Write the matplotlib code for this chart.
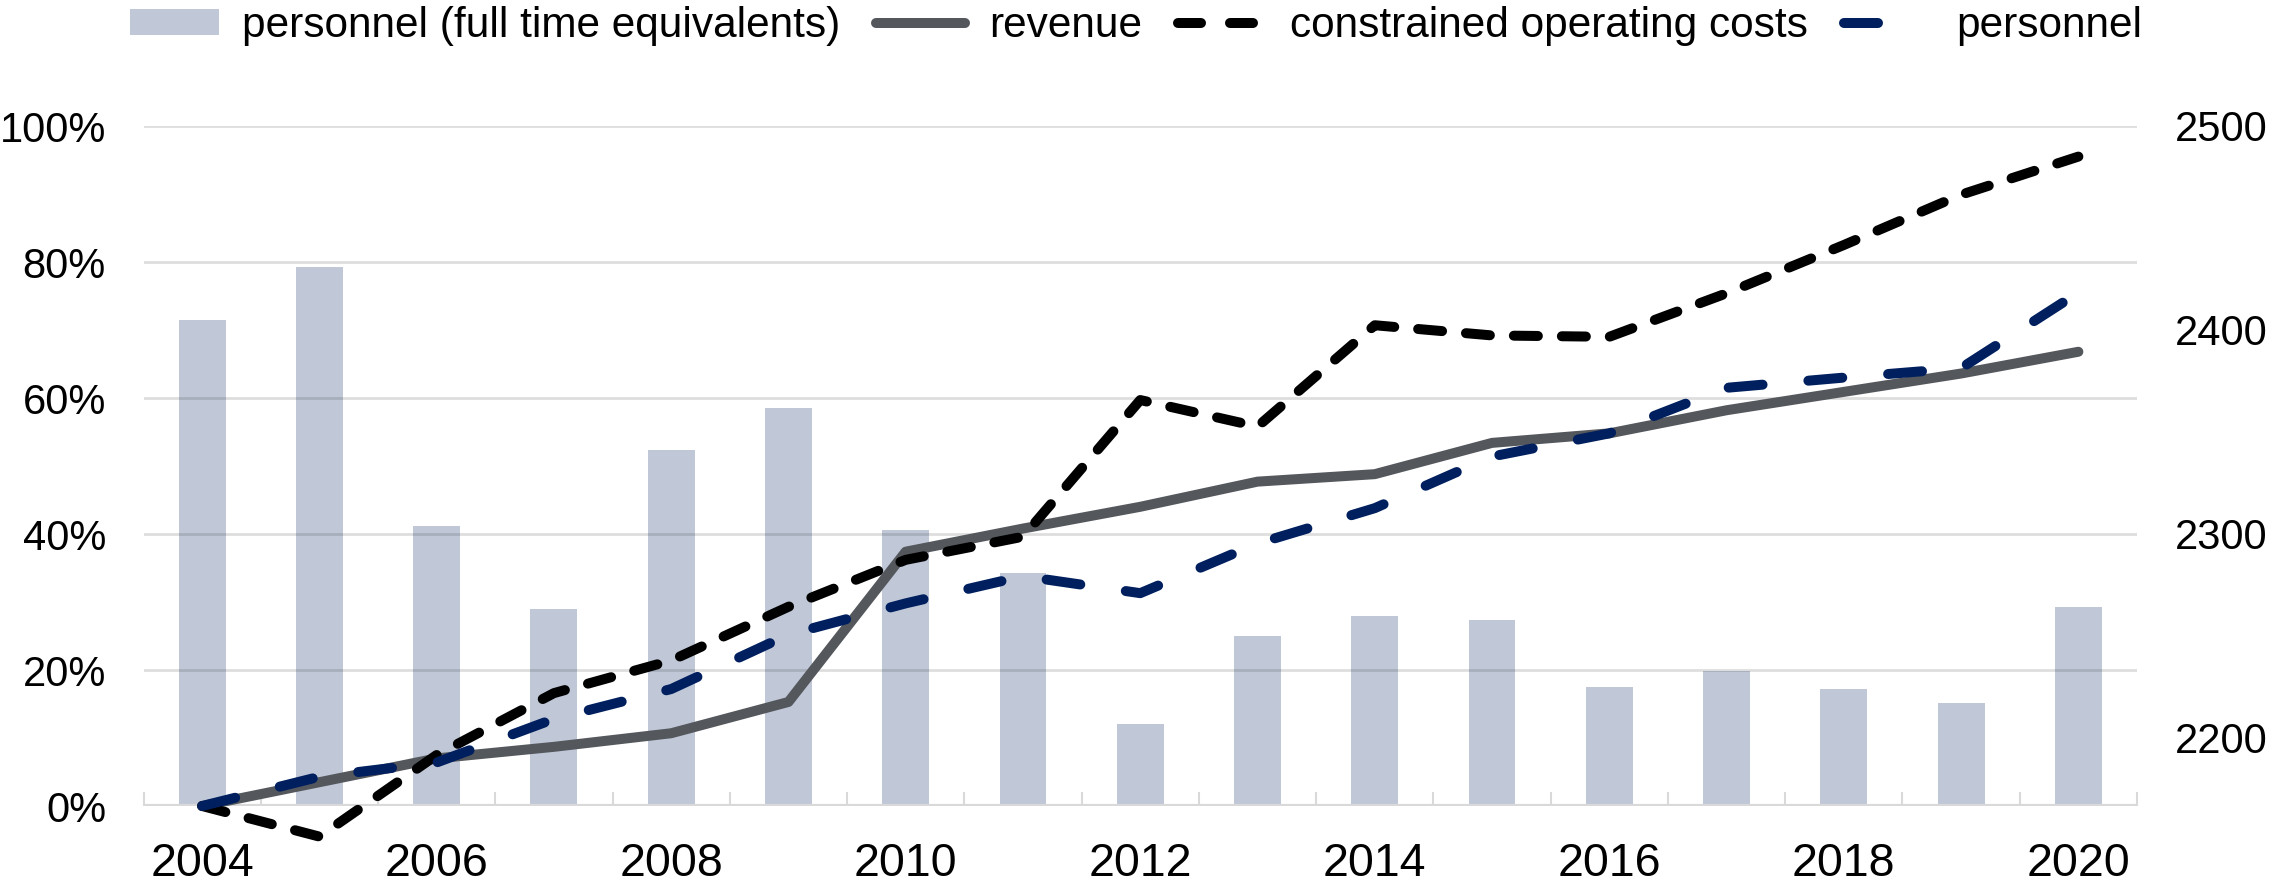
import matplotlib
matplotlib.use("Agg")
import matplotlib.pyplot as plt
from matplotlib.lines import Line2D
from matplotlib.patches import Patch
from matplotlib.ticker import FixedLocator, FuncFormatter

plt.rcParams['font.family'] = ['Liberation Sans', 'DejaVu Sans']

years = list(range(2004, 2021))
fte = [2405, 2431, 2304, 2263, 2341, 2362, 2302, 2281, 2207, 2250, 2260, 2258,
       2225, 2233, 2224, 2217, 2264]
revenue = [0, 3.5, 7.0, 8.7, 10.7, 15.3, 37.4, 40.8, 44.0, 47.7, 48.8, 53.4,
           54.8, 58.2, 60.9, 63.6, 66.8]
constrained_costs = [0, -4.5, 7.5, 16.6, 21.4, 29.3, 36.2, 39.6, 59.7, 55.8,
                     70.7, 69.2, 69.0, 75.4, 82.5, 89.9, 95.5]
personnel = [0, 4.3, 6.4, 12.8, 17.2, 25.2, 29.8, 33.8, 31.3, 38.6, 43.8,
             51.4, 54.8, 61.5, 63.0, 64.4, 75.5]
left_ticks = [0, 20, 40, 60, 80, 100]
right_ticks = [2200, 2300, 2400, 2500]

bar_color = '#c0c8d8'
rev_color = '#54575c'
coc_color = '#000000'
pers_color = '#001f5f'
grid_color = '#d9d9d9'

W, H = 2272, 889
fig = plt.figure(figsize=(W / 100, H / 100), dpi=100)
left, right, bottom, top = 143.5 / W, 2137 / W, 1 - 806 / H, 1 - 126 / H
ax = fig.add_axes([left, bottom, right - left, top - bottom])
ax2 = ax.twinx()

x = list(range(len(years)))
rmin, rmax = 2500 - 1000 / 3, 2500

# bars on secondary axis, drawn behind lines
ax2.bar(x, fte, width=0.4, color=bar_color, zorder=1)
ax2.set_ylim(rmin, rmax)
ax2.yaxis.set_major_locator(FixedLocator(right_ticks))
ax2.tick_params(axis='y', length=0, pad=27, labelsize=30)


def to_right(vals):
    return [rmin + v / 100 * (rmax - rmin) for v in vals]


# gridlines on top of bars (semi transparent)
for yv in to_right(left_ticks[1:]):
    ax2.axhline(yv, color='black', alpha=0.13, lw=2, zorder=2)

lw = 7.2
ax2.plot(x, to_right(revenue), color=rev_color, lw=lw, solid_capstyle='round',
         solid_joinstyle='round', zorder=3, clip_on=False)
ax2.plot(x, to_right(constrained_costs), color=coc_color, lw=lw,
         linestyle=(0, (2.4, 2.4)), dash_capstyle='round', dash_joinstyle='round',
         zorder=4, clip_on=False)
ax2.plot(x, to_right(personnel), color=pers_color, lw=lw,
         linestyle=(0, (3.4, 4.6)), dash_capstyle='round', dash_joinstyle='round',
         zorder=5, clip_on=False)

ax.set_ylim(0, 100)
ax.set_xlim(-0.5, len(years) - 0.5)
ax2.set_xlim(-0.5, len(years) - 0.5)
ax.yaxis.set_major_locator(FixedLocator(left_ticks))
ax.yaxis.set_major_formatter(FuncFormatter(lambda v, p: f"{int(v)}%"))
ax.tick_params(axis='y', length=0, pad=27, labelsize=30)

# x axis: boundary ticks + labels on even years
ax.set_xticks([i - 0.5 for i in range(len(years) + 1)])
ax.set_xticklabels([])
ax.tick_params(axis='x', which='major', direction='in', length=10, width=1.5,
               color=grid_color)
ax.set_xticks([i for i, y in enumerate(years) if y % 2 == 0], minor=True)
ax.set_xticklabels([str(y) for y in years if y % 2 == 0], minor=True)
ax.tick_params(axis='x', which='minor', length=0, pad=26, labelsize=33.5)

for a in (ax, ax2):
    for s in ('top', 'left', 'right', 'bottom'):
        a.spines[s].set_visible(False)
ax2.axhline(rmin, color=grid_color, lw=3, zorder=2.5)
ax.set_zorder(ax2.get_zorder() - 1)
ax.patch.set_visible(False)

handles = [
    Patch(facecolor=bar_color, edgecolor='none'),
    Line2D([], [], color=rev_color, lw=lw, solid_capstyle='round'),
    Line2D([], [], color=coc_color, lw=lw, linestyle=(0, (2.3, 2.9)),
           dash_capstyle='round'),
    Line2D([], [], color=pers_color, lw=lw, linestyle=(0, (3.4, 6.0)),
           dash_capstyle='round'),
]
labels = ['personnel (full time equivalents)', 'revenue',
          'constrained operating costs', 'personnel']
fig.legend(handles, labels, loc='center', bbox_to_anchor=(0.5, 1 - 26 / H),
           ncol=4, frameon=False, fontsize=30.5, handlelength=2.1,
           handleheight=0.55, handletextpad=0.55, columnspacing=0.85,
           borderpad=0, borderaxespad=0)

fig.savefig('out.png', dpi=100)
